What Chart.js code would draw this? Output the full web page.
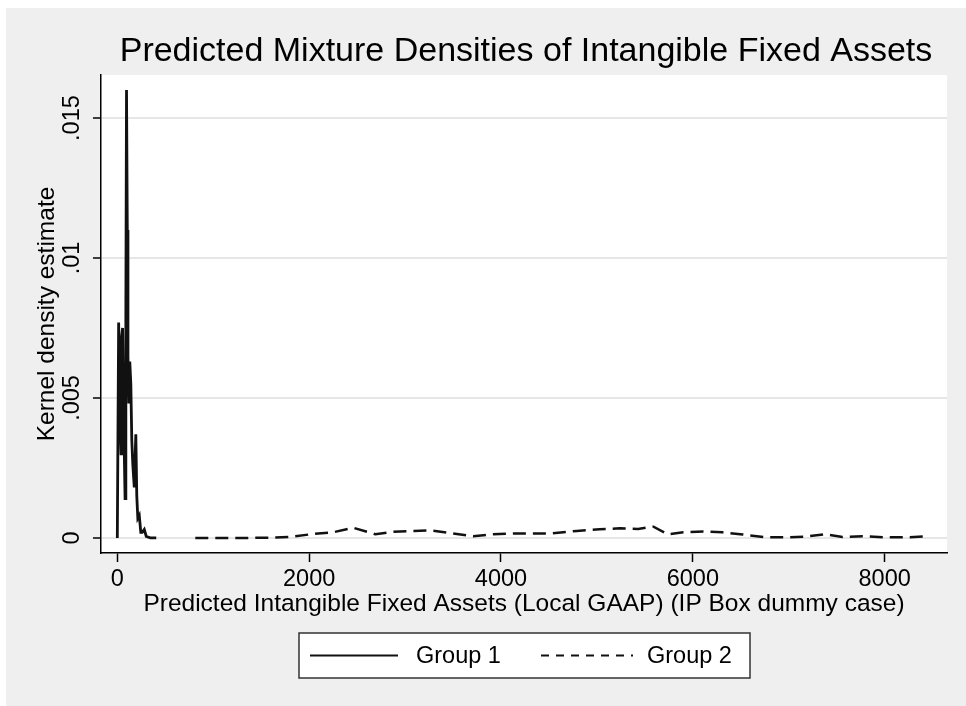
<!DOCTYPE html>
<html>
<head>
<meta charset="utf-8">
<title>Predicted Mixture Densities</title>
<script src="https://cdn.jsdelivr.net/npm/chart.js@4/dist/chart.umd.min.js"></script>
<style>
  html, body { margin: 0; padding: 0; background: #fff; }
  #wrap { position: absolute; left: 0; top: 0; width: 966px; height: 706px; }
</style>
</head>
<body>
<div id="wrap"><canvas id="density" width="966" height="706"></canvas></div>
<script>
// Group 1 (solid) - spiky density near zero
const g1X = [0, 14, 26, 39, 45, 55, 68, 81, 89, 96, 104, 111, 120, 130, 141, 151, 162, 177, 193, 203, 214, 229, 245, 260, 281, 302, 344, 406];
const g1Y = [0, 0.0077, 0.0045, 0.0030, 0.0072, 0.0075, 0.0040, 0.0014, 0.0080, 0.0160, 0.0110, 0.0065, 0.0048, 0.0063, 0.0055, 0.0035, 0.0026, 0.0018, 0.0037, 0.0015, 0.0007, 0.0008, 0.0002, 0.0002, 0.0003, 0.00005, 0, 0];
// Group 2 (dashed) - flat density far out
const g2X = [813, 1000, 1200, 1400, 1600, 1800, 2040, 2250, 2460, 2690, 2880, 3090, 3260, 3500, 3710, 3910, 4130, 4320, 4510, 4790, 5030, 5240, 5430, 5590, 5740, 5900, 6110, 6310, 6520, 6770, 6980, 7190, 7380, 7560, 7770, 8020, 8230, 8470];
const g2Y = [0, 0, 0, 0, 0.00001, 0.00003, 0.00014, 0.0002, 0.00036, 0.00013, 0.00022, 0.00025, 0.00027, 0.00016, 0.00006, 0.00013, 0.00016, 0.00016, 0.00016, 0.00025, 0.00031, 0.00034, 0.00032, 0.0004, 0.00013, 0.0002, 0.00023, 0.0002, 0.00012, 0.00002, 0.00002, 0.00005, 0.00013, 0.00003, 0.00006, 0.00002, 0.00002, 0.00006];

const seriesNames = ['Group 1', 'Group 2'];
const xTicks = [0, 2000, 4000, 6000, 8000];
const yTicks = [0, 0.005, 0.01, 0.015];
const yTickLabels = ['0', '.005', '.01', '.015'];

const chartTitle = 'Predicted Mixture Densities of Intangible Fixed Assets';
const xTitle = 'Predicted Intangible Fixed Assets (Local GAAP) (IP Box dummy case)';
const yTitle = 'Kernel density estimate';

const FONT = "'Liberation Sans', Arial, sans-serif";
const BG = '#efefef';

const toPoints = (xs, ys) => xs.map((x, i) => ({ x: x, y: ys[i] }));

// stata-ish backdrop + title + boxed legend
const stataLook = {
  id: 'stataLook',
  beforeDraw(chart) {
    const { ctx, chartArea: a } = chart;
    ctx.save();
    ctx.fillStyle = '#fff';
    ctx.fillRect(0, 0, chart.width, chart.height);
    ctx.fillStyle = BG;
    ctx.fillRect(6, 8, chart.width - 6, chart.height - 8);
    ctx.fillStyle = '#fff';
    ctx.fillRect(a.left, a.top, a.right - a.left, a.bottom - a.top);
    ctx.restore();
  },
  afterDraw(chart) {
    const { ctx, chartArea: a } = chart;
    ctx.save();
    // title
    ctx.fillStyle = '#000';
    ctx.font = '34px ' + FONT;
    ctx.textAlign = 'center';
    ctx.textBaseline = 'alphabetic';
    ctx.fillText(chartTitle, (a.left + a.right) / 2 + 2, 61);

    // legend
    const bx = 299, by = 633, bw = 451, bh = 45;
    ctx.fillStyle = '#fff';
    ctx.fillRect(bx, by, bw, bh);
    ctx.strokeStyle = '#333';
    ctx.lineWidth = 1.5;
    ctx.strokeRect(bx, by, bw, bh);
    const cy = by + bh / 2;
    const items = [
      { x0: 310, x1: 398, tx: 416 },
      { x0: 541, x1: 633, tx: 647 }
    ];
    chart.data.datasets.forEach((ds, i) => {
      const it = items[i];
      ctx.strokeStyle = ds.borderColor;
      ctx.lineWidth = 2;
      ctx.setLineDash(ds.borderDash && ds.borderDash.length ? [8, 7] : []);
      ctx.beginPath();
      ctx.moveTo(it.x0, cy);
      ctx.lineTo(it.x1, cy);
      ctx.stroke();
      ctx.setLineDash([]);
      ctx.fillStyle = '#000';
      ctx.font = '23.5px ' + FONT;
      ctx.textAlign = 'left';
      ctx.textBaseline = 'middle';
      ctx.fillText(ds.label, it.tx, cy + 1);
    });
    ctx.restore();
  }
};

new Chart(document.getElementById('density'), {
  type: 'line',
  data: {
    datasets: [
      {
        label: seriesNames[0],
        data: toPoints(g1X, g1Y),
        borderColor: '#111',
        borderWidth: 2.8,
        pointRadius: 0,
        tension: 0,
        fill: false
      },
      {
        label: seriesNames[1],
        data: toPoints(g2X, g2Y),
        borderColor: '#111',
        borderWidth: 2.5,
        borderDash: [13, 7],
        pointRadius: 0,
        tension: 0,
        fill: false
      }
    ]
  },
  options: {
    responsive: false,
    animation: false,
    devicePixelRatio: 1,
    layout: { padding: { left: 0, top: 75, right: 19, bottom: 87 } },
    plugins: {
      legend: { display: false },
      title: { display: false },
      tooltip: { enabled: false }
    },
    scales: {
      x: {
        type: 'linear',
        min: -170,
        max: 8650,
        afterBuildTicks: (s) => { s.ticks = xTicks.map(v => ({ value: v })); },
        afterFit: (s) => { s.height = 66; },
        grid: { drawOnChartArea: false, drawTicks: true, tickLength: 9, tickColor: '#000', tickWidth: 1.5 },
        border: { display: true, color: '#000', width: 1.5 },
        ticks: {
          color: '#000',
          font: { family: FONT, size: 23.5 },
          padding: 3,
          maxRotation: 0,
          autoSkip: false,
          callback: (v) => String(v)
        },
        title: {
          display: true,
          text: xTitle,
          color: '#000',
          font: { family: FONT, size: 24.5 },
          padding: { top: 0, bottom: 0 }
        }
      },
      y: {
        type: 'linear',
        min: -0.00054,
        max: 0.01654,
        afterBuildTicks: (s) => { s.ticks = yTicks.map(v => ({ value: v })); },
        afterFit: (s) => { s.width = 101; },
        grid: { color: '#e6e6e6', lineWidth: 2, drawTicks: true, tickLength: 8, tickColor: '#000', tickWidth: 1.5 },
        border: { display: true, color: '#000', width: 1.5 },
        ticks: {
          color: '#000',
          font: { family: FONT, size: 23.5 },
          padding: -2,
          minRotation: 90,
          maxRotation: 90,
          crossAlign: 'center',
          autoSkip: false,
          callback: (v) => {
            const i = yTicks.findIndex(t => Math.abs(t - v) < 1e-9);
            return i >= 0 ? yTickLabels[i] : '';
          }
        },
        title: {
          display: true,
          text: yTitle,
          color: '#000',
          font: { family: FONT, size: 24.5 },
          padding: { top: 33, bottom: 0 }
        }
      }
    }
  },
  plugins: [stataLook]
});
</script>
</body>
</html>
